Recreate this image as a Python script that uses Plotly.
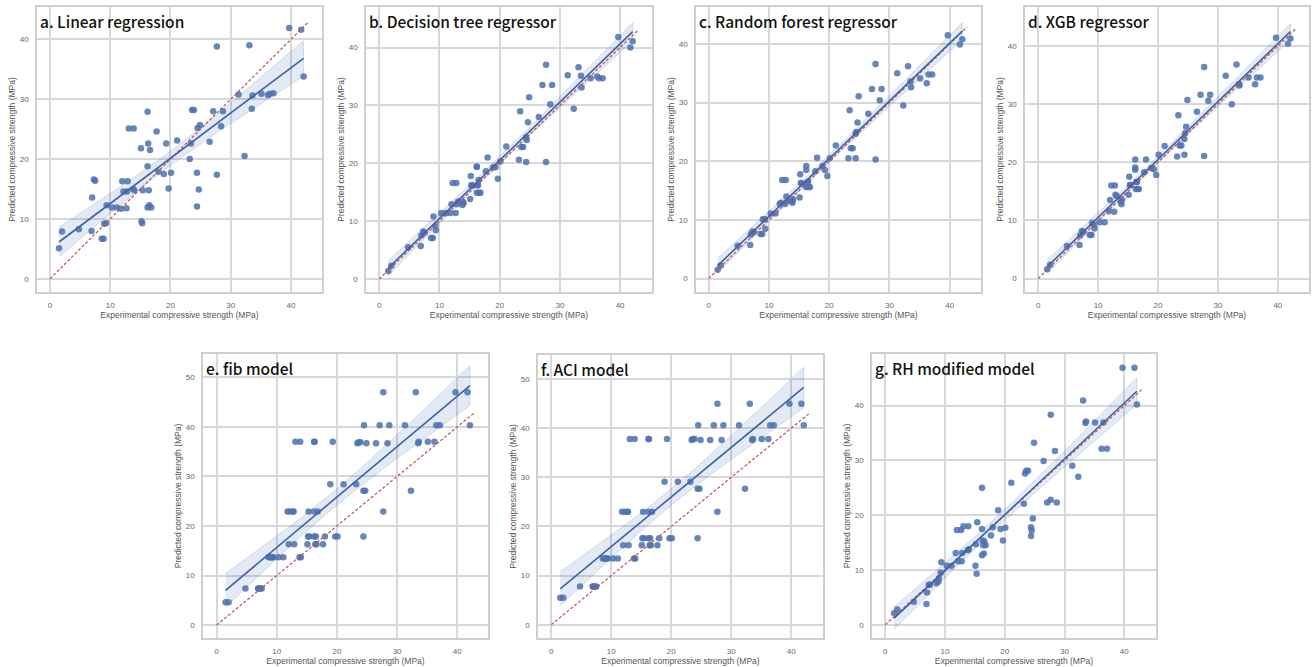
import numpy as np
import plotly.graph_objects as go

# ---------------- data ----------------
experimental = [1.5, 2.0, 4.8, 6.9, 7.0, 7.3, 7.5, 8.6, 8.9, 9.0,
                9.3, 9.4, 10.3, 11.1, 11.8, 12.0, 12.2, 12.7, 12.8, 12.9,
                13.1, 13.8, 13.9, 14.0, 15.1, 15.2, 15.3, 15.4, 16.2, 16.2,
                16.2, 16.3, 16.4, 16.5, 16.6, 16.8, 17.7, 18.0, 18.9, 19.3,
                19.7, 20.1, 21.1, 23.2, 23.4, 23.6, 23.9, 24.4, 24.4, 24.5,
                24.7, 24.9, 26.5, 27.1, 27.7, 27.7, 28.4, 28.7, 31.3, 32.3,
                33.1, 33.5, 33.6, 35.1, 36.2, 36.5, 37.1, 39.7, 41.7, 42.1]

pred_linear = [5.1, 7.9, 8.3, 8.0, 13.6, 16.6, 16.4, 6.7, 6.7, 9.2,
               9.3, 12.3, 11.9, 11.9, 11.7, 16.3, 14.6, 11.8, 14.6, 16.3,
               25.1, 15.0, 25.1, 14.8, 21.8, 9.6, 9.3, 14.8, 27.9, 18.8,
               11.9, 22.6, 14.8, 12.3, 21.5, 11.9, 24.6, 17.9, 17.5, 22.6,
               15.1, 17.7, 23.1, 20.0, 22.6, 28.2, 28.2, 17.7, 12.1, 25.2,
               14.9, 25.7, 22.9, 28.0, 38.8, 17.4, 25.5, 28.0, 30.8, 20.5,
               39.0, 28.4, 30.6, 30.9, 30.7, 30.9, 31.0, 41.9, 41.6, 33.8]

pred_tree = [1.4, 2.3, 5.5, 5.7, 7.5, 8.2, 8.0, 7.1, 7.1, 10.8,
             9.1, 8.4, 11.4, 11.4, 11.4, 12.9, 16.6, 11.4, 16.6, 12.9,
             13.4, 12.8, 13.3, 13.1, 13.8, 17.8, 16.2, 16.2, 19.4, 19.4,
             14.9, 16.2, 16.2, 17.1, 14.9, 14.9, 18.6, 21.0, 19.3, 19.3,
             17.3, 20.3, 22.9, 20.6, 29.0, 22.8, 22.8, 20.2, 24.5, 24.0,
             27.1, 31.4, 28.0, 33.5, 37.0, 20.2, 30.2, 33.5, 35.2, 29.4,
             36.6, 35.1, 33.1, 34.7, 35.0, 34.7, 34.7, 41.8, 40.0, 41.1]

pred_forest = [1.5, 2.2, 5.6, 5.7, 7.5, 8.0, 7.9, 7.6, 7.6, 10.1,
               10.1, 8.5, 11.1, 11.1, 12.7, 12.9, 16.8, 12.7, 16.8, 14.0,
               13.2, 13.2, 12.9, 13.5, 13.8, 17.8, 16.3, 16.3, 19.2, 18.5,
               15.6, 16.3, 15.6, 16.5, 15.6, 15.6, 18.3, 20.6, 19.2, 18.5,
               17.5, 20.5, 22.7, 20.5, 28.7, 22.2, 22.2, 20.5, 24.7, 25.0,
               26.6, 31.1, 28.1, 32.3, 36.6, 20.3, 30.4, 32.3, 35.0, 29.5,
               36.2, 33.6, 32.6, 34.1, 33.3, 34.8, 34.8, 41.5, 39.9, 40.8]

pred_xgb = [1.6, 2.4, 5.6, 5.8, 7.4, 8.2, 8.0, 7.5, 7.5, 9.5,
            9.2, 8.6, 9.7, 9.7, 11.6, 13.5, 16.0, 11.5, 16.0, 14.4,
            14.2, 13.2, 12.8, 13.6, 14.4, 17.5, 16.1, 16.1, 20.5, 19.1,
            18.7, 15.4, 16.6, 16.6, 15.4, 15.4, 18.3, 20.5, 19.0, 18.8,
            17.8, 21.3, 22.8, 21.0, 28.1, 22.9, 22.9, 21.3, 24.0, 25.0,
            26.1, 30.7, 28.7, 31.6, 36.4, 21.1, 30.6, 31.6, 34.9, 30.0,
            36.8, 33.4, 33.2, 34.6, 33.4, 34.6, 34.6, 41.4, 40.4, 41.3]

pred_fib = [4.6, 4.6, 7.4, 7.4, 7.4, 7.4, 7.4, 13.7, 13.7, 13.7,
            13.7, 13.7, 13.7, 13.7, 22.9, 16.3, 22.9, 22.9, 22.9, 16.3,
            37.0, 13.7, 37.0, 13.7, 16.3, 17.9, 22.9, 17.9, 37.0, 22.9,
            17.9, 37.0, 16.3, 17.9, 16.3, 22.9, 16.3, 17.9, 28.4, 37.0,
            17.9, 17.9, 28.4, 28.4, 36.7, 36.9, 36.9, 17.9, 27.1, 40.3,
            27.1, 36.7, 36.7, 40.3, 47.0, 22.9, 36.7, 40.3, 40.3, 27.1,
            47.0, 36.7, 37.0, 37.0, 37.0, 40.3, 40.3, 47.0, 47.0, 40.3]

pred_aci = [5.5, 5.5, 7.8, 7.8, 7.8, 7.8, 7.8, 13.5, 13.5, 13.5,
            13.5, 13.5, 13.5, 13.5, 23.0, 16.2, 23.0, 23.0, 23.0, 16.2,
            37.8, 13.5, 37.8, 13.5, 16.2, 17.6, 23.0, 17.6, 37.8, 23.0,
            17.6, 37.8, 16.2, 17.6, 16.2, 23.0, 16.2, 17.6, 29.1, 37.8,
            17.6, 17.6, 29.1, 29.1, 37.6, 37.8, 37.8, 17.6, 27.7, 40.6,
            27.7, 37.6, 37.6, 40.6, 45.0, 23.0, 37.6, 40.6, 40.6, 27.7,
            45.0, 37.6, 37.8, 37.8, 37.8, 40.6, 40.6, 45.0, 45.0, 40.6]

pred_rh = [2.1, 2.8, 4.2, 3.8, 5.9, 7.3, 7.3, 7.6, 7.9, 8.5,
           9.5, 11.4, 10.8, 10.8, 13.1, 17.3, 11.6, 17.3, 11.6, 13.1,
           18.0, 13.6, 18.0, 13.8, 10.8, 14.7, 9.3, 18.7, 25.0, 17.5,
           12.7, 15.4, 14.5, 13.0, 15.2, 14.5, 16.3, 17.8, 20.9, 17.5,
           15.4, 17.7, 25.9, 22.1, 27.6, 28.1, 28.1, 17.8, 16.2, 17.2,
           19.4, 33.2, 29.9, 22.3, 38.3, 22.8, 31.7, 22.3, 29.0, 27.0,
           40.9, 36.8, 37.1, 36.9, 32.1, 36.9, 32.1, 46.9, 46.9, 40.2]

titles = ["a. Linear regression", "b. Decision tree regressor",
          "c. Random forest regressor", "d. XGB regressor",
          "e. fib model", "f. ACI model", "g. RH modified model"]
series = [pred_linear, pred_tree, pred_forest, pred_xgb, pred_fib, pred_aci, pred_rh]
ident_line = [0, 42.9]
x_label = "Experimental compressive strength (MPa)"
y_label = "Predicted compressive strength (MPa)"
ticks_top = [0, 10, 20, 30, 40]
ticks_ef = [0, 10, 20, 30, 40, 50]

# ---------------- layout geometry (pixels) ----------------
W, H = 1312, 667
boxes = [  # (left, right, top, bottom) px
    (37, 322, 7, 292),
    (366, 652, 7, 292),
    (696, 981, 7, 292),
    (1025, 1309, 7, 292),
    (203, 488, 354, 638),
    (538, 823, 355, 638),
    (872, 1156, 354, 638),
]
xranges = [[-2.15, 45.15], [-2.2, 45.3], [-2.1, 45.2], [-2.2, 45.2],
           [-2.25, 45.1], [-2.2, 45.3], [-2.2, 45.3]]
yranges = [[-2.2, 45.4], [-2.25, 47.0], [-2.3, 46.3], [-2.3, 46.7],
           [-2.6, 54.7], [-2.7, 54.9], [-2.4, 49.4]]

BLUE = "#4c72b0"
LINE_BLUE = "#3a62ab"
RED = "#c44e52"
GRID = "#d8d8d8"
FRAME = "#cfcfcf"
TICKFONT = dict(family="Liberation Sans, Arial, sans-serif", size=8, color="#666666")
LABFONT = dict(family="Liberation Sans, Arial, sans-serif", size=8.5, color="#555555")

fig = go.Figure()
x = np.array(experimental, dtype=float)
n = len(x)
t_crit = 1.995

for i, (title, yv) in enumerate(zip(titles, series)):
    ax = "" if i == 0 else str(i + 1)
    xa, ya = "x" + ax, "y" + ax
    y = np.array(yv, dtype=float)
    slope, intercept = np.polyfit(x, y, 1)
    resid = y - (slope * x + intercept)
    s = np.sqrt(np.sum(resid ** 2) / (n - 2))
    xm = x.mean()
    sxx = np.sum((x - xm) ** 2)
    xg = np.linspace(x.min(), x.max(), 100)
    yg = slope * xg + intercept
    half = t_crit * s * np.sqrt(1.0 / n + (xg - xm) ** 2 / sxx)
    up, lo = yg + half, yg - half

    # confidence band
    fig.add_trace(go.Scatter(
        x=np.concatenate([xg, xg[::-1]]), y=np.concatenate([up, lo[::-1]]),
        fill="toself", fillcolor="rgba(76,114,176,0.15)",
        line=dict(color="rgba(76,114,176,0.35)", width=0.6),
        mode="lines", hoverinfo="skip", showlegend=False, xaxis=xa, yaxis=ya))
    # scatter
    fig.add_trace(go.Scatter(
        x=experimental, y=yv, mode="markers",
        marker=dict(color=BLUE, size=6.5, opacity=0.85, line=dict(width=0)),
        showlegend=False, xaxis=xa, yaxis=ya))
    # identity line
    fig.add_trace(go.Scatter(
        x=ident_line, y=ident_line, mode="lines",
        line=dict(color=RED, width=1.2, dash="3px,2px"),
        showlegend=False, xaxis=xa, yaxis=ya))
    # regression line
    fig.add_trace(go.Scatter(
        x=xg, y=yg, mode="lines", line=dict(color=LINE_BLUE, width=1.6),
        showlegend=False, xaxis=xa, yaxis=ya))

    l, r, t, b = boxes[i]
    tv = ticks_ef if i in (4, 5) else ticks_top
    common = dict(showgrid=True, gridcolor=GRID, gridwidth=1.6, zeroline=False,
                  showline=True, linecolor=FRAME, linewidth=1.5, mirror=True,
                  ticks="", tickfont=TICKFONT, ticklabelstandoff=5)
    fig.update_layout(**{
        "xaxis" + ax: dict(domain=[l / W, r / W], range=xranges[i], anchor=ya,
                           tickvals=ticks_top,
                           title=dict(text=x_label, font=LABFONT, standoff=1),
                           **common),
        "yaxis" + ax: dict(domain=[1 - b / H, 1 - t / H], range=yranges[i], anchor=xa,
                           tickvals=tv,
                           title=dict(text=y_label, font=LABFONT, standoff=3),
                           **common),
    })
    fig.add_annotation(text=title, xref="paper", yref="paper",
                       x=(l + 1) / W, y=1 - (t + 1) / H, xanchor="left", yanchor="top",
                       showarrow=False,
                       font=dict(family="Noto Sans CJK SC, Noto Sans, sans-serif",
                                 size=15.5, color="#111111", weight=500))

fig.update_layout(width=W, height=H, margin=dict(l=0, r=0, t=0, b=0),
                  paper_bgcolor="white", plot_bgcolor="white")
fig.write_html("out.html", config={"displayModeBar": False},
               post_script="document.body.style.margin='0';document.body.style.overflow='hidden';")
